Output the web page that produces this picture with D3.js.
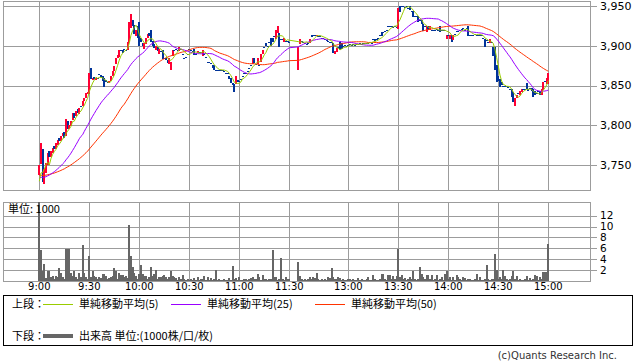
<!DOCTYPE html>
<html>
<head>
<meta charset="utf-8">
<script src="https://cdn.jsdelivr.net/npm/d3@7"></script>
<style>
body { margin: 0; background: #fff; }
text { font-family: "DejaVu Sans", sans-serif; fill: #000; }
.jp { font-family: "Noto Sans CJK JP", sans-serif; }
</style>
</head>
<body>
<div id="chart"></div>
<script>
// tick labels
let priceTicks = [3750, 3800, 3850, 3900, 3950];
let volumeTicks = [2, 4, 6, 8, 10, 12];
let timeTicks = ["9:00", "9:30", "10:00", "10:30", "11:00", "11:30", "13:00", "13:30", "14:00", "14:30", "15:00"];
let sessionStart = ["9:00", "12:30"];

// closes of the previous session (needed for the moving averages at the open)
let prevCloses = [3741,3740,3742,3741,3739,3740,3741,3742,3740,3739,3740,3741,3740,3739,3738,3739,3740,3741,3740,3739,3738,3739,3740,3739,3738,
                  3738,3737,3738,3736,3737,3736,3735,3736,3735,3734,3735,3734,3733,3734,3733,3732,3731,3730,3729,3728,3726,3725,3724,3723];

// morning session, one value per minute from 9:00
let amOpen = [3738,3752,3770,3726,3740,3750,3768,3760,3766,3774,
              3770,3776,3784,3780,3786,3792,3786,3805,3795,3800,
              3806,3816,3812,3820,3815,3824,3824,3830,3834,3840,
              3840,3872,3858,3861,3858,3860,3864,3863,3862,3859,
              3857,3855,3854,3856,3862,3869,3876,3884,3886,3895,
              3895,3896,3895,3895,3905,3922,3932,3926,3912,3925,
              3930,3910,3904,3895,3902,3910,3916,3920,3906,3902,
              3895,3898,3890,3893,3895,3884,3884,3882,3876,3870,
              3887,3895,3896,3895,3894,3896,3890,3884,3886,3890,
              3896,3895,3893,3896,3890,3890,3892,3892,3888,3890,
              3886,3880,3880,3878,3876,3876,3869,3870,3870,3870,
              3869,3868,3866,3866,3862,3860,3853,3852,3852,3857,
              3856,3858,3862,3866,3866,3868,3872,3876,3877,3884,
              3877,3876,3876,3880,3890,3898,3903,3900,3905,3910,
              3910,3912,3909,3916,3916,3908,3908,3905,3906,3906,3905];
let amClose = [3750,3778,3728,3745,3752,3765,3760,3768,3772,3770,
               3778,3782,3780,3786,3790,3784,3808,3795,3800,3806,
               3815,3810,3818,3815,3822,3824,3830,3834,3840,3842,
               3866,3858,3860,3858,3860,3859,3864,3860,3856,3848,
               3855,3854,3856,3862,3868,3875,3884,3888,3895,3895,
               3891,3896,3895,3905,3930,3940,3925,3915,3920,3910,
               3900,3905,3900,3903,3910,3915,3912,3905,3900,3897,
               3900,3893,3896,3893,3884,3884,3882,3878,3884,3880,
               3895,3895,3896,3894,3899,3896,3889,3884,3886,3890,
               3896,3895,3892,3888,3890,3893,3892,3892,3895,3890,
               3886,3880,3880,3878,3872,3870,3869,3870,3870,3870,
               3869,3868,3866,3866,3858,3854,3850,3842,3862,3855,
               3856,3858,3862,3866,3866,3868,3872,3876,3884,3878,
               3877,3884,3876,3890,3895,3898,3899,3900,3905,3900,
               3905,3912,3920,3925,3899,3908,3908,3910,3906,3906,3905];
let amVolume = [15,5.7,1.8,3.1,0.5,1.8,1.8,0.7,1.0,0.4,
                1.0,0.7,2.3,1.5,0.7,0.4,5.9,5.9,5.9,1.5,
                1.0,1.8,0.8,0.4,1.5,0.8,6.6,1.5,0.8,0.4,
                4.6,0.8,1.8,1.0,0.7,0.3,0.7,0.5,1.3,1.3,
                1.0,0.3,0.5,0.7,1.0,2.3,1.8,0.4,1.5,1.1,
                1.1,0.7,1.0,0.5,10.3,4.6,2.5,1.5,1.0,0.4,
                1.3,2.9,1.3,1.0,1.0,0.3,0.7,2.6,1.0,1.3,
                2.1,0.3,0.7,0.7,1.0,1.1,0.7,0.3,0.7,1.8,
                1.0,0.7,0.5,0.2,0.7,0.4,1.1,0.4,0.2,0.3,
                0.2,0.4,0.2,0.5,0.2,0.7,0.2,0.3,0.4,0.9,
                0.2,0.7,0.2,0.5,0.2,0.3,2.0,0.2,0.4,0.2,
                0.2,0.3,0.2,0.2,0.5,0.2,2.8,0.3,0.5,0.2,
                0.7,0.2,0.2,0.3,0.4,0.2,0.3,0.5,0.7,0.3,
                0.4,1.3,0.7,0.2,1.1,0.3,0.4,0.2,0.3,0.3,
                5.6,0.7,0.7,0.2,0.3,4.3,0.4,0.2,0.7,0.3,0.4];

// afternoon session, one value per minute from 12:30
let pmOpen = [3870,3902,3906,3905,3904,3902,3903,3904,3914,3913,
              3914,3912,3912,3912,3910,3910,3908,3907,3906,3905,
              3905,3903,3889,3892,3899,3905,3903,3900,3901,3900,
              3901,3902,3901,3902,3901,3902,3902,3903,3902,3903,
              3903,3904,3904,3905,3904,3908,3908,3908,3910,3913,
              3917,3917,3918,3920,3925,3925,3925,3924,3925,3924,
              3922,3950,3950,3950,3949,3950,3948,3950,3944,3944,
              3938,3937,3938,3932,3933,3927,3925,3918,3925,3920,
              3920,3920,3920,3921,3920,3925,3920,3920,3920,3909,
              3914,3909,3913,3907,3915,3918,3918,3920,3921,3922,
              3920,3922,3925,3913,3914,3914,3915,3914,3913,3914,
              3913,3910,3909,3907,3905,3904,3905,3899,3899,3876,
              3862,3858,3854,3849,3849,3849,3848,3846,3846,3842,
              3824,3834,3840,3838,3841,3846,3846,3853,3846,3847,
              3847,3845,3843,3841,3843,3843,3838,3844,3856,3852,3852];
let pmClose = [3899,3908,3906,3905,3904,3902,3903,3909,3912,3913,
               3914,3913,3912,3912,3910,3910,3908,3907,3906,3905,
               3905,3890,3893,3897,3899,3895,3896,3900,3901,3900,
               3901,3902,3901,3902,3901,3902,3902,3903,3902,3903,
               3903,3904,3904,3905,3904,3908,3906,3908,3910,3913,
               3912,3917,3918,3920,3925,3925,3925,3924,3925,3924,
               3948,3942,3950,3950,3949,3950,3948,3945,3944,3936,
               3938,3937,3930,3932,3928,3918,3925,3925,3920,3925,
               3920,3920,3920,3921,3920,3918,3920,3920,3920,3914,
               3914,3914,3904,3913,3915,3918,3918,3920,3921,3922,
               3920,3922,3913,3913,3914,3914,3915,3914,3913,3914,
               3913,3910,3899,3907,3905,3909,3905,3888,3870,3854,
               3856,3848,3850,3849,3849,3849,3848,3846,3836,3829,
               3834,3838,3840,3843,3845,3846,3846,3846,3843,3847,
               3843,3835,3838,3841,3843,3838,3845,3854,3856,3860,3866];
let pmVolume = [3.5,1.0,0.3,0.2,0.4,0.2,0.3,0.7,0.3,0.7,
                0.5,1.5,0.4,0.2,0.3,0.2,0.3,0.2,0.7,0.5,
                2.3,0.7,0.3,0.4,0.7,0.5,0.2,0.4,0.2,0.2,
                0.3,0.4,0.2,0.4,0.2,0.2,0.5,0.2,0.4,0.2,
                0.2,0.3,0.7,0.2,0.2,1.1,0.3,0.2,0.2,0.3,
                1.3,1.3,0.3,0.2,1.1,1.1,0.3,1.0,0.3,0.9,
                5.9,0.7,1.1,0.3,0.5,0.2,0.3,0.7,0.3,1.8,
                0.4,0.2,0.3,2.6,1.3,0.7,0.3,1.1,1.1,0.3,
                1.1,0.2,0.3,1.1,0.2,0.3,0.7,0.2,1.3,1.8,
                0.3,0.7,0.2,0.7,0.2,1.1,0.7,0.3,0.2,0.7,
                0.5,0.2,0.4,0.4,0.2,0.2,0.3,1.3,0.2,0.7,
                0.2,0.2,0.3,3.0,0.4,0.2,0.4,0.3,4.9,2.1,
                0.3,0.7,0.3,2.1,1.0,0.4,0.2,0.3,1.0,1.8,
                0.3,1.0,0.2,0.4,0.2,0.2,0.3,1.0,0.2,0.5,
                0.2,0.3,1.1,0.9,0.2,0.7,0.3,1.6,1.6,1.6,6.8];

let maPeriods = [5, 25, 50];
let maColors = ["#99cc00", "#9900ff", "#ff3300"];
let maLabels = ["単純移動平均(5)", "単純移動平均(25)", "単純移動平均(50)"];

// minutes after 9:00
function toMin(t) {
    let p = t.split(":").map(Number);
    return p[0] * 60 + p[1] - 540;
}

let bars = [];
[[amOpen, amClose, amVolume], [pmOpen, pmClose, pmVolume]].forEach(function(s, k) {
    let t0 = toMin(sessionStart[k]);
    s[1].forEach(function(c, i) {
        bars.push({t: t0 + i, open: s[0][i], close: c, vol: s[2][i]});
    });
});

let width = 638;
let height = 362;
let svg = d3.select("#chart")
            .append("svg")
            .attr("width", width)
            .attr("height", height);

let left = 3, right = 590;
let x = d3.scaleLinear()
          .domain([0, 150, 210, 360])
          .range([39.3, 289.3, 298.3, 548.3]);
let y = d3.scaleLinear()
          .domain([3718.6, 3956.3])
          .range([190, 1]);
let yv = d3.scaleLinear()
           .domain([0, 14.5])
           .range([281, 202]);

let gridColor = "#9c9c9c";

function panel(top, bottom, yScale, ticks, fmt, id) {
    let g = svg.append("g");
    svg.append("clipPath").attr("id", id)
       .append("rect").attr("x", left).attr("y", top).attr("width", right - left).attr("height", bottom - top);
    g.selectAll(".hg").data(ticks).enter().append("line")
     .attr("x1", left).attr("x2", right + 7)
     .attr("y1", function(d) { return Math.round(yScale(d)) + 0.5; })
     .attr("y2", function(d) { return Math.round(yScale(d)) + 0.5; })
     .attr("stroke", gridColor).attr("shape-rendering", "crispEdges");
    g.selectAll(".vg").data(timeTicks).enter().append("line")
     .attr("x1", function(d) { return Math.round(x(toMin(d))) + 0.5; })
     .attr("x2", function(d) { return Math.round(x(toMin(d))) + 0.5; })
     .attr("y1", top).attr("y2", bottom)
     .attr("stroke", gridColor).attr("shape-rendering", "crispEdges");
    g.append("rect")
     .attr("x", left + 0.5).attr("y", top + 0.5)
     .attr("width", right - left).attr("height", bottom - top)
     .attr("fill", "none").attr("stroke", gridColor).attr("shape-rendering", "crispEdges");
    g.selectAll(".yl").data(ticks).enter().append("text")
     .attr("x", 600)
     .attr("y", function(d) { return yScale(d); })
     .attr("dy", "0.36em")
     .style("font-size", id == "clipP" ? "11px" : "10.5px")
     .text(fmt);
    return g;
}

panel(1, 190, y, priceTicks, d3.format(","), "clipP");
panel(202, 281, yv, volumeTicks, function(d) { return d; }, "clipV");

// candles: red when up, blue otherwise
let red = "#ff0033", blue = "#003399";
svg.append("g").attr("clip-path", "url(#clipP)")
   .selectAll("rect").data(bars).enter().append("rect")
   .attr("x", function(d) { return Math.round(x(d.t)) - 1; })
   .attr("width", 2)
   .attr("y", function(d) { return Math.round(y(Math.max(d.open, d.close))); })
   .attr("height", function(d) { return Math.max(1, Math.round(Math.abs(y(d.open) - y(d.close)))); })
   .attr("fill", function(d) { return d.close > d.open ? red : blue; })
   .attr("shape-rendering", "crispEdges");

// moving averages
let allCloses = prevCloses.concat(bars.map(function(d) { return d.close; }));
function sma(n) {
    return bars.map(function(d, i) {
        let j = i + prevCloses.length;
        return {t: d.t, v: d3.mean(allCloses.slice(j - n + 1, j + 1))};
    });
}
let line = d3.line().x(function(d) { return x(d.t); }).y(function(d) { return y(d.v); });
[2, 1, 0].forEach(function(k) {
    svg.append("path")
       .attr("clip-path", "url(#clipP)")
       .attr("d", line(sma(maPeriods[k])))
       .attr("fill", "none")
       .attr("stroke", maColors[k])
       .attr("stroke-width", 1);
});

// volume
svg.append("g").attr("clip-path", "url(#clipV)")
   .selectAll("rect").data(bars).enter().append("rect")
   .attr("x", function(d) { return Math.round(x(d.t)) - 1; })
   .attr("width", 2)
   .attr("y", function(d) { return Math.round(yv(d.vol)); })
   .attr("height", function(d) { return 281 - Math.round(yv(d.vol)); })
   .attr("fill", "#666666")
   .attr("shape-rendering", "crispEdges");

svg.append("text").attr("class", "jp")
   .attr("x", 8).attr("y", 213)
   .style("font-size", "11px")
   .text("単位: 1000");

// time labels
svg.selectAll(".tl").data(timeTicks).enter().append("text")
   .attr("x", function(d) { return x(toMin(d)); })
   .attr("y", 290)
   .attr("text-anchor", "middle")
   .style("font-size", "10px")
   .text(function(d) { return d; });

// legend
svg.append("rect")
   .attr("x", 3.5).attr("y", 295.5).attr("width", 629).attr("height", 50)
   .attr("fill", "none").attr("stroke", "#000").attr("shape-rendering", "crispEdges");
let lg = svg.append("g").attr("class", "jp").style("font-size", "11px");
lg.append("text").attr("x", 12).attr("y", 308).attr("class", "jp").text("上段：");
let legendX = [43, 171, 315];
maLabels.forEach(function(l, k) {
    lg.append("line")
      .attr("x1", legendX[k]).attr("x2", legendX[k] + 30)
      .attr("y1", 304.5).attr("y2", 304.5)
      .attr("stroke", maColors[k]);
    lg.append("text").attr("class", "jp")
      .attr("x", legendX[k] + 36).attr("y", 308)
      .text(l);
});
lg.append("text").attr("x", 12).attr("y", 340).attr("class", "jp").text("下段：");
lg.append("line")
  .attr("x1", 43).attr("x2", 73).attr("y1", 336).attr("y2", 336)
  .attr("stroke", "#666666").attr("stroke-width", 4);
lg.append("text").attr("class", "jp").attr("x", 79).attr("y", 340).text("出来高 単位:(1000株/口/枚)");

svg.append("text")
   .attr("x", 617).attr("y", 359)
   .attr("text-anchor", "end")
   .style("font-size", "10px")
   .style("fill", "#333")
   .text("(c)Quants Research Inc.");
</script>
</body>
</html>
